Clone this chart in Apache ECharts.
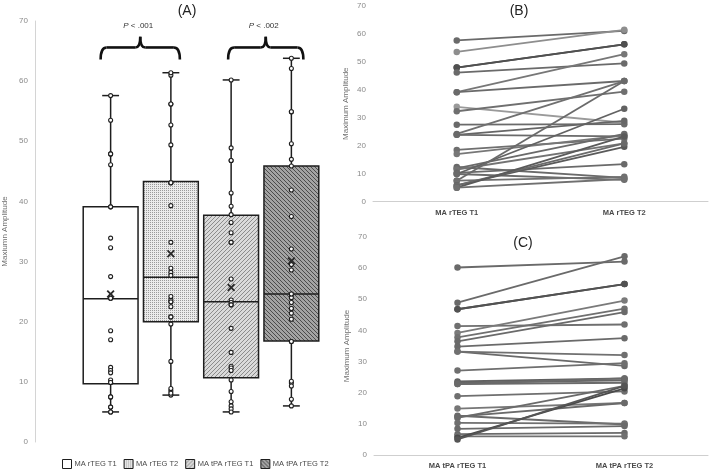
<!DOCTYPE html>
<html><head><meta charset="utf-8">
<script src="https://cdn.jsdelivr.net/npm/echarts@6/dist/echarts.min.js"></script>
<style>html,body{margin:0;padding:0;background:#fff}#c{width:709px;height:470px}</style>
</head><body><div id="c"></div>
<script>
// ---------- data ----------
const boxNames  = ['MA rTEG T1', 'MA rTEG T2', 'MA tPA rTEG T1', 'MA tPA rTEG T2'];
const boxMin    = [5.0, 7.8, 5.0, 6.0];
const boxQ1     = [9.7, 20.0, 10.7, 16.8];
const boxMedian = [23.8, 27.4, 23.3, 24.6];
const boxQ3     = [39.1, 43.3, 37.7, 45.9];
const boxMax    = [57.6, 61.4, 60.2, 63.8];
const boxMean   = [24.6, 31.3, 25.7, 30.1];

const rtegT1 = [57.6, 53.5, 47.9, 47.9, 46.1, 39.1, 39.1, 33.9, 32.3, 27.5, 24.2, 23.9, 23.9, 18.5, 17.0, 12.4, 11.9, 11.5, 10.3, 9.9, 9.9, 7.5, 7.5, 5.8, 5.8, 5.0, 5.0];
const rtegT2 = [61.0, 61.4, 56.2, 56.2, 49.4, 52.7, 43.1, 28.2, 39.3, 27.7, 43.1, 28.9, 23.3, 22.5, 23.7, 8.5, 24.2, 20.8, 13.4, 33.2, 7.8, 43.1, 8.9, 19.6, 20.8, 23.3, 8.1];
const tpaT1  = [60.2, 48.9, 46.8, 46.8, 41.4, 39.2, 37.8, 36.5, 34.8, 33.2, 33.2, 27.1, 23.6, 23.2, 22.8, 22.8, 18.9, 14.9, 12.6, 12.3, 11.9, 10.3, 8.4, 6.7, 6.0, 5.5, 5.0];
const tpaT2  = [62.1, 63.8, 54.9, 54.9, 41.9, 49.6, 47.0, 45.9, 37.5, 28.6, 32.1, 29.5, 24.6, 24.0, 23.2, 24.6, 20.4, 16.7, 9.8, 16.7, 22.2, 10.1, 9.3, 7.1, 6.0, 21.4, 22.2];

const catsB = ['MA rTEG T1', 'MA rTEG T2'];
const catsC = ['MA tPA rTEG T1', 'MA tPA rTEG T2'];
const pValues = ['.001', '.002'];
const panelTitles = ['(A)', '(B)', '(C)'];
const yMin = 0, yMax = 70, yStep = 10;

// ---------- styles ----------
const shadesB = ['#6a6a6a','#8e8e8e','#474747','#505050','#6a6a6a','#777777','#6a6a6a','#9a9a9a','#6f6f6f','#6a6a6a','#707070','#666666','#6a6a6a','#6f6f6f','#777777','#6a6a6a','#6a6a6a','#737373','#6a6a6a','#626262','#6a6a6a','#6a6a6a','#707070','#5a5a5a','#6a6a6a','#5a5a5a','#707070'];
const shadesC = ['#6a6a6a','#6a6a6a','#4a4a4a','#525252','#6f6f6f','#7a7a7a','#707070','#6a6a6a','#6a6a6a','#6a6a6a','#707070','#6f6f6f','#606060','#666666','#6a6a6a','#6a6a6a','#6f6f6f','#777777','#6a6a6a','#6a6a6a','#6a6a6a','#6f6f6f','#6a6a6a','#6a6a6a','#707070','#4a4a4a','#555555'];
const FONT = 'Liberation Sans';

function makePattern(kind) {
  const c = document.createElement('canvas');
  const g = c.getContext('2d');
  if (kind === 'plain') { c.width = c.height = 2; g.fillStyle = '#ffffff'; g.fillRect(0,0,2,2); }
  else if (kind === 'dots') {
    c.width = c.height = 2; g.fillStyle = '#ebebeb'; g.fillRect(0,0,2,2);
    g.fillStyle = '#9a9a9a'; g.fillRect(0,0,1,1);
  } else {
    const s = 4; c.width = c.height = s;
    const light = kind === 'fwd';
    g.fillStyle = light ? '#dadada' : '#a3a3a3'; g.fillRect(0,0,s,s);
    g.strokeStyle = light ? '#8c8c8c' : '#4c4c4c'; g.lineWidth = 1;
    g.beginPath();
    if (light) { g.moveTo(-1,s+1); g.lineTo(s+1,-1); g.moveTo(-1,1); g.lineTo(1,-1); g.moveTo(s-1,s+1); g.lineTo(s+1,s-1); }
    else { g.moveTo(-1,-1); g.lineTo(s+1,s+1); g.moveTo(-1,s-1); g.lineTo(1,s+1); g.moveTo(s-1,-1); g.lineTo(s+1,1); }
    g.stroke();
  }
  return { image: c, repeat: 'repeat' };
}
const patterns = [makePattern('plain'), makePattern('dots'), makePattern('fwd'), makePattern('back')];

const chart = echarts.init(document.getElementById('c'), null, { renderer: 'canvas' });

function boxSeries(i) {
  return {
    type: 'custom', name: boxNames[i], xAxisIndex: 0, yAxisIndex: 0, z: 2,
    itemStyle: { color: patterns[i], borderColor: '#1e1e1e', borderWidth: 1 },
    data: [[i, boxMin[i], boxQ1[i], boxMedian[i], boxQ3[i], boxMax[i]]],
    encode: { x: 0, y: [1, 2, 3, 4, 5] },
    renderItem: function (params, api) {
      const cat = api.value(0);
      const band = api.size([1, 0])[0];
      const pMin = api.coord([cat, api.value(1)]);
      const pQ1 = api.coord([cat, api.value(2)]);
      const pMed = api.coord([cat, api.value(3)]);
      const pQ3 = api.coord([cat, api.value(4)]);
      const pMax = api.coord([cat, api.value(5)]);
      const x = pMed[0], half = band * 0.455, cap = band * 0.14;
      const ls = { stroke: '#1e1e1e', lineWidth: 1.5 };
      return { type: 'group', children: [
        { type: 'line', shape: { x1: x, y1: pMax[1], x2: x, y2: pQ3[1] }, style: ls },
        { type: 'line', shape: { x1: x, y1: pQ1[1], x2: x, y2: pMin[1] }, style: ls },
        { type: 'line', shape: { x1: x - cap, y1: pMax[1], x2: x + cap, y2: pMax[1] }, style: ls },
        { type: 'line', shape: { x1: x - cap, y1: pMin[1], x2: x + cap, y2: pMin[1] }, style: ls },
        { type: 'rect', shape: { x: x - half, y: pQ3[1], width: 2 * half, height: pQ1[1] - pQ3[1] },
          style: { fill: patterns[i], stroke: '#1e1e1e', lineWidth: 1.5 } },
        { type: 'line', shape: { x1: x - half, y1: pMed[1], x2: x + half, y2: pMed[1] }, style: ls }
      ]};
    }
  };
}

const groups = [rtegT1, rtegT2, tpaT1, tpaT2];
const series = [];
for (let i = 0; i < 4; i++) series.push(boxSeries(i));
for (let i = 0; i < 4; i++) {
  series.push({
    type: 'scatter', name: 'pts' + i, xAxisIndex: 0, yAxisIndex: 0, z: 5,
    symbol: 'circle', symbolSize: 4,
    itemStyle: { color: '#ffffff', borderColor: '#1e1e1e', borderWidth: 1.1, opacity: 1 },
    data: groups[i].map(v => [i, v])
  });
}
series.push({
  type: 'scatter', name: 'mean', xAxisIndex: 0, yAxisIndex: 0, z: 6,
  symbol: 'path://M0,1.6L1.6,0L5,3.4L8.4,0L10,1.6L6.6,5L10,8.4L8.4,10L5,6.6L1.6,10L0,8.4L3.4,5Z',
  symbolSize: 8, itemStyle: { color: '#2a2a2a', opacity: 1 },
  data: boxMean.map((v, i) => [i, v])
});
for (let i = 0; i < rtegT1.length; i++) {
  series.push({ type: 'line', name: 'b' + i, xAxisIndex: 1, yAxisIndex: 1, data: [rtegT1[i], rtegT2[i]],
    symbol: 'circle', symbolSize: 6.5, showSymbol: true,
    lineStyle: { width: 1.8, color: shadesB[i] }, itemStyle: { color: shadesB[i] } });
}
for (let i = 0; i < tpaT1.length; i++) {
  series.push({ type: 'line', name: 'c' + i, xAxisIndex: 2, yAxisIndex: 2, data: [tpaT1[i], tpaT2[i]],
    symbol: 'circle', symbolSize: 6.5, showSymbol: true,
    lineStyle: { width: 1.8, color: shadesC[i] }, itemStyle: { color: shadesC[i] } });
}

function yAx(grid, name, opts) {
  return Object.assign({
    type: 'value', gridIndex: grid, min: yMin, max: yMax, interval: yStep,
    name: name, nameLocation: 'middle', nameGap: 23,
    nameTextStyle: { fontFamily: FONT, fontSize: 8, color: '#707070' },
    axisLine: { show: false }, axisTick: { show: false }, splitLine: { show: false },
    axisLabel: { fontFamily: FONT, fontSize: 8, color: '#8a8a8a', margin: 7 }
  }, opts || {});
}
function xCat(grid, data) {
  return {
    type: 'category', gridIndex: grid, data: data, boundaryGap: true,
    axisLine: { show: true, lineStyle: { color: '#cfcfcf', width: 1 } },
    axisTick: { show: false },
    axisLabel: { fontFamily: FONT, fontSize: 7.5, fontWeight: 'bold', color: '#4a4a4a', margin: 7 }
  };
}

chart.setOption({
  animation: false,
  backgroundColor: '#ffffff',
  grid: [
    { left: 77.5, top: 21, width: 244, height: 421 },
    { left: 373, top: 5.7, width: 335, height: 196 },
    { left: 374, top: 237, width: 334, height: 218 }
  ],
  xAxis: [
    { type: 'category', gridIndex: 0, data: boxNames, boundaryGap: true, show: false },
    xCat(1, catsB),
    xCat(2, catsC)
  ],
  yAxis: [
    yAx(0, 'Maxiumn Amplitude', { offset: 45.5, nameGap: 26,
      axisLine: { show: true, lineStyle: { color: '#d4d4d4', width: 1 } } }),
    yAx(1, 'Maximum Amplitude'),
    yAx(2, 'Maximum Amplitude')
  ],
  legend: {
    data: boxNames.map((n, i) => ({ name: n, itemStyle: { color: patterns[i], borderColor: '#1e1e1e', borderWidth: 1 } })),
    icon: 'rect', left: 57, top: 454, itemWidth: 9, itemHeight: 9, itemGap: 7,
    textStyle: { fontFamily: FONT, fontSize: 7.5, color: '#4a4a4a', padding: [0, 0, 0, -2] },
    selectedMode: false
  },
  series: series
});

// ---------- annotations (titles, braces, p-values) ----------
function px(cat, val) { return chart.convertToPixel({ xAxisIndex: 0, yAxisIndex: 0 }, [cat, val]); }
const braceDefs = [[0, 1, -10, 9], [2, 3, -3, 12]];
const graphics = [];
const bs = { fill: null, stroke: '#111', lineWidth: 2.6 };
braceDefs.forEach((b, k) => {
  const x1 = px(b[0], 0)[0] + b[2], x2 = px(b[1], 0)[0] + b[3];
  const yTop = px(0, 65.6)[1], yEnd = px(0, 63.6)[1], yTip = px(0, 67.4)[1];
  const xm = (x1 + x2) / 2;
  graphics.push({ type: 'bezierCurve', z: 10, shape: { x1: x1, y1: yEnd, cpx1: x1, cpy1: yTop, x2: x1 + 6, y2: yTop }, style: bs });
  graphics.push({ type: 'line', z: 10, shape: { x1: x1 + 6, y1: yTop, x2: xm - 5, y2: yTop }, style: bs });
  graphics.push({ type: 'bezierCurve', z: 10, shape: { x1: xm - 5, y1: yTop, cpx1: xm, cpy1: yTop, x2: xm, y2: yTip }, style: bs });
  graphics.push({ type: 'bezierCurve', z: 10, shape: { x1: xm, y1: yTip, cpx1: xm, cpy1: yTop, x2: xm + 5, y2: yTop }, style: bs });
  graphics.push({ type: 'line', z: 10, shape: { x1: xm + 5, y1: yTop, x2: x2 - 6, y2: yTop }, style: bs });
  graphics.push({ type: 'bezierCurve', z: 10, shape: { x1: x2 - 6, y1: yTop, cpx1: x2, cpy1: yTop, x2: x2, y2: yEnd }, style: bs });
  graphics.push({ type: 'text', z: 10, x: xm - 2, y: 26, style: {
    text: '{i|P} < ' + pValues[k],
    rich: { i: { fontStyle: 'italic', fontFamily: FONT, fontSize: 8, fill: '#333' } },
    font: '8px ' + FONT, fill: '#333', align: 'center', verticalAlign: 'middle' } });
});
graphics.push({ type: 'text', x: 187, y: 11, style: { text: panelTitles[0], font: '14px ' + FONT, fill: '#222', align: 'center', verticalAlign: 'middle' } });
graphics.push({ type: 'text', x: 519, y: 11, style: { text: panelTitles[1], font: '14px ' + FONT, fill: '#222', align: 'center', verticalAlign: 'middle' } });
graphics.push({ type: 'text', x: 523, y: 243, style: { text: panelTitles[2], font: '14px ' + FONT, fill: '#222', align: 'center', verticalAlign: 'middle' } });
chart.setOption({ graphic: graphics });
</script>
</body></html>
